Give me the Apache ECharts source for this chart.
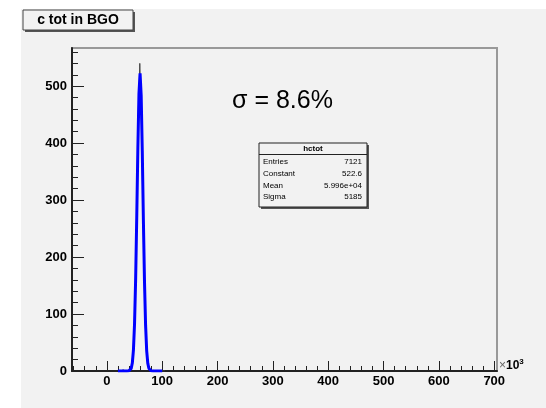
<!DOCTYPE html>
<html>
<head>
<meta charset="utf-8">
<script src="https://cdn.jsdelivr.net/npm/echarts@6/dist/echarts.min.js"></script>
<style>
  html, body { margin: 0; padding: 0; background: #ffffff; }
  #chart { width: 546px; height: 408px; }
</style>
</head>
<body>
<div id="chart"></div>
<script>
// Histogram of total charge in BGO (x in units of 10^3), 1-unit bins starting at histStart
const histStart = 20;
const histCounts = [
  0, 0, 1, 0, 0, 0, 0, 1, 0, 0, 2, 0, 0, 1, 0, 2, 0, 1, 1, 0,
  1, 0, 2, 3, 5, 9, 12, 25, 34, 58,
  79, 120, 158, 214, 266, 335, 384, 447, 478, 503,
  540, 509, 490, 436, 392, 321, 271, 205, 161, 112,
  83, 52, 37, 20, 14, 7, 5, 3, 1, 0,
  1, 0, 0, 0, 1, 0, 0, 0, 2, 0,
  0, 0, 1, 0, 0, 0, 0, 1, 0, 0,
  0, 0, 0, 1, 0, 0
];

// Gaussian fit curve samples
const fitX = [20, 30, 36, 38, 40, 42, 44, 46, 48, 50, 52, 54, 56, 58, 60, 62, 64, 66, 68, 70, 72, 74, 76, 78, 80, 82, 84, 90, 100];
const fitY = [0, 0, 0, 0.1, 0.3, 1.3, 4.6, 14, 36.5, 82.6, 161, 270, 390, 487, 522.6, 484, 386, 265, 157, 80, 35, 13.4, 4.4, 1.2, 0.3, 0.1, 0, 0, 0];

// Axis tick values
const xMajor = [0, 100, 200, 300, 400, 500, 600, 700];
const xMinor = [-60, -40, -20, 20, 40, 60, 80, 120, 140, 160, 180, 220, 240, 260, 280, 320, 340, 360, 380,
                420, 440, 460, 480, 520, 540, 560, 580, 620, 640, 660, 680];
const yMajor = [0, 100, 200, 300, 400, 500];
const yMinor = [20, 40, 60, 80, 120, 140, 160, 180, 220, 240, 260, 280, 320, 340, 360, 380,
                420, 440, 460, 480, 520, 540, 560];

// Stats box contents
const statsTitle = 'hctot';
const statsNames = ['Entries', 'Constant', 'Mean', 'Sigma'];
const statsValues = ['7121', '522.6', '5.996e+04', '5185'];

const titleText = 'c tot in BGO';
const resolutionText = 'σ = 8.6%';

const FONT = '"Liberation Sans", Arial, Helvetica, sans-serif';
const X_MIN = -63, X_MAX = 705, Y_MIN = 0, Y_MAX = 567;

const histData = histCounts.map((c, i) => [histStart + i, c]);
const fitData = fitX.map((x, i) => [x, fitY[i]]);

const chart = echarts.init(document.getElementById('chart'), null, { renderer: 'canvas' });

const labelStyle = { fontFamily: FONT, fontWeight: 'bold', fontSize: 13, color: '#000' };

// stats box graphics
const sbX = 259, sbY = 143, sbW = 108, sbH = 64;
const statsGraphics = [
  { type: 'rect', shape: { x: sbX + 2, y: sbY + 2, width: sbW, height: sbH }, style: { fill: '#555' }, z: 10 },
  { type: 'rect', shape: { x: sbX, y: sbY, width: sbW, height: sbH }, style: { fill: '#f2f2f2', stroke: '#222', lineWidth: 1 }, z: 11 },
  { type: 'line', shape: { x1: sbX, y1: sbY + 11.5, x2: sbX + sbW, y2: sbY + 11.5 }, style: { stroke: '#222', lineWidth: 1 }, z: 12 },
  { type: 'text', x: sbX + sbW / 2, y: sbY + 6, style: { text: statsTitle, font: 'bold 8px ' + FONT, fill: '#000', align: 'center', verticalAlign: 'middle' }, z: 12 }
];
statsNames.forEach((n, i) => {
  const yy = sbY + 19 + i * 11.7;
  statsGraphics.push({ type: 'text', x: sbX + 4, y: yy, style: { text: n, font: '8px ' + FONT, fill: '#000', align: 'left', verticalAlign: 'middle' }, z: 12 });
  statsGraphics.push({ type: 'text', x: sbX + sbW - 5, y: yy, style: { text: statsValues[i], font: '8px ' + FONT, fill: '#000', align: 'right', verticalAlign: 'middle' }, z: 12 });
});

const option = {
  animation: false,
  backgroundColor: '#ffffff',
  grid: {
    left: 72, top: 48, width: 425, height: 323,
    show: true, borderColor: '#999', borderWidth: 2, backgroundColor: 'transparent'
  },
  xAxis: [
    {
      type: 'value', min: X_MIN, max: X_MAX, position: 'bottom',
      axisLine: { show: true, onZero: false, lineStyle: { color: '#222', width: 2 } },
      axisTick: { show: true, inside: true, length: 10, customValues: xMajor, lineStyle: { color: '#222', width: 1 } },
      axisLabel: Object.assign({ customValues: xMajor, margin: 4 }, labelStyle),
      splitLine: { show: false }
    },
    {
      type: 'value', min: X_MIN, max: X_MAX, position: 'bottom',
      axisLine: { show: false, onZero: false },
      axisTick: { show: true, inside: true, length: 5, customValues: xMinor, lineStyle: { color: '#222', width: 1 } },
      axisLabel: { show: false },
      splitLine: { show: false }
    }
  ],
  yAxis: [
    {
      type: 'value', min: Y_MIN, max: Y_MAX, position: 'left',
      axisLine: { show: true, onZero: false, lineStyle: { color: '#222', width: 2 } },
      axisTick: { show: true, inside: true, length: 12, customValues: yMajor, lineStyle: { color: '#222', width: 1 } },
      axisLabel: Object.assign({ customValues: yMajor, margin: 5 }, labelStyle),
      splitLine: { show: false }
    },
    {
      type: 'value', min: Y_MIN, max: Y_MAX, position: 'left',
      axisLine: { show: false, onZero: false },
      axisTick: { show: true, inside: true, length: 6, customValues: yMinor, lineStyle: { color: '#222', width: 1 } },
      axisLabel: { show: false },
      splitLine: { show: false }
    }
  ],
  series: [
    {
      name: 'hctot', type: 'line', step: 'middle', data: histData,
      xAxisIndex: 0, yAxisIndex: 0, symbol: 'none',
      lineStyle: { color: '#444', width: 1 }, z: 3
    },
    {
      name: 'fit', type: 'line', data: fitData,
      xAxisIndex: 0, yAxisIndex: 0, symbol: 'none',
      lineStyle: { color: '#0000ff', width: 3 }, z: 4
    }
  ],
  graphic: [
    // canvas pad
    { type: 'rect', shape: { x: 21, y: 9, width: 525, height: 399 }, style: { fill: '#f2f2f2' }, z: -10, silent: true },
    // title box
    { type: 'rect', shape: { x: 25, y: 12, width: 110, height: 20 }, style: { fill: '#555' }, z: 10 },
    { type: 'rect', shape: { x: 23, y: 10, width: 110, height: 20 }, style: { fill: '#f2f2f2', stroke: '#444', lineWidth: 1 }, z: 11 },
    { type: 'text', x: 78, y: 20.5, style: { text: titleText, font: 'bold 14px ' + FONT, fill: '#000', align: 'center', verticalAlign: 'middle' }, z: 12 },
    // resolution annotation
    { type: 'text', x: 232, y: 101, style: { text: resolutionText, font: '25px ' + FONT, fill: '#000', align: 'left', verticalAlign: 'middle' }, z: 12 },
    // axis multiplier
    {
      type: 'text', x: 499, y: 366,
      style: {
        text: '{a|×}{b|10}{s|3}',
        rich: {
          a: { font: '12px ' + FONT, fill: '#666' },
          b: { font: 'bold 12px ' + FONT, fill: '#000' },
          s: { font: 'bold 8px ' + FONT, fill: '#000', verticalAlign: 'top', padding: [0, 0, 8, 0] }
        },
        verticalAlign: 'middle'
      },
      z: 12
    }
  ].concat(statsGraphics)
};

chart.setOption(option);
</script>
</body>
</html>
